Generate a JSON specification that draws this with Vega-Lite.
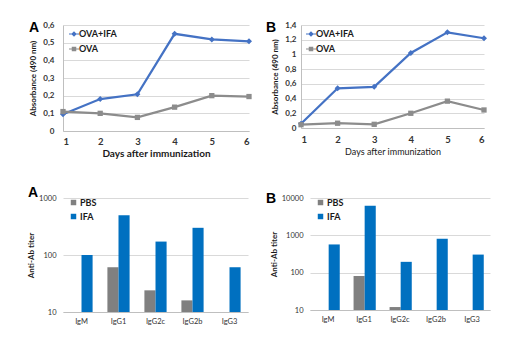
{
  "$schema": "https://vega.github.io/schema/vega-lite/v6.json",
  "background": "white",
  "padding": {"left": 27, "top": 21, "right": 5, "bottom": 5},
  "config": {
    "font": "Lato",
    "view": {"stroke": null},
    "axis": {"labelColor": "#333333", "titleColor": "#1a1a1a", "gridColor": "#d9d9d9", "domainColor": "#bfbfbf", "ticks": false, "labelFont": "Lato", "titleFont": "Lato"},
    "legend": {"labelFont": "Lato", "labelColor": "#1a1a1a", "padding": 0},
    "title": {"font": "Liberation Sans", "fontSize": 14, "fontWeight": "bold", "anchor": "start", "frame": "group", "offset": 0, "color": "#000000"}
  },
  "resolve": {"scale": {"color": "independent"}, "legend": {"color": "independent"}},
  "spacing": 27,
  "vconcat": [
    {
      "spacing": 52,
      "bounds": "flush",
      "resolve": {"scale": {"color": "independent"}, "legend": {"color": "independent"}},
      "hconcat": [
        {
          "width": 186,
          "height": 106,
          "title": {"text": "A", "dx": -34, "dy": 18},
          "data": {"values": [
            {"day": 1, "series": "OVA+IFA", "abs": 0.095},
            {"day": 2, "series": "OVA+IFA", "abs": 0.181},
            {"day": 3, "series": "OVA+IFA", "abs": 0.208},
            {"day": 4, "series": "OVA+IFA", "abs": 0.55},
            {"day": 5, "series": "OVA+IFA", "abs": 0.518},
            {"day": 6, "series": "OVA+IFA", "abs": 0.508},
            {"day": 1, "series": "OVA", "abs": 0.11},
            {"day": 2, "series": "OVA", "abs": 0.1},
            {"day": 3, "series": "OVA", "abs": 0.077},
            {"day": 4, "series": "OVA", "abs": 0.135},
            {"day": 5, "series": "OVA", "abs": 0.2},
            {"day": 6, "series": "OVA", "abs": 0.195}
          ]},
          "encoding": {
            "x": {"field": "day", "type": "quantitative", "scale": {"domain": [1, 6], "nice": false, "zero": false},
              "axis": {"values": [1, 2, 3, 4, 5, 6], "format": "d", "title": "Days after immunization", "grid": false, "labelFontSize": 9.5, "labelFontWeight": "bold", "labelPadding": 5, "titleFontSize": 10, "titleFontWeight": "bold", "titlePadding": 3}},
            "y": {"field": "abs", "type": "quantitative", "scale": {"domain": [0, 0.6], "nice": false},
              "axis": {"values": [0, 0.1, 0.2, 0.3, 0.4, 0.5, 0.6], "labelExpr": "replace(format(datum.value, '~g'), '.', ',')", "title": "Absorbance  (490 nm)", "grid": true, "labelFontSize": 8, "labelFontWeight": "bold", "labelPadding": 9, "titleFontSize": 8, "titleFontWeight": "bold", "titlePadding": 5}},
            "color": {"field": "series", "type": "nominal", "scale": {"domain": ["OVA+IFA", "OVA"], "range": ["#4472c4", "#8c8c8c"]},
              "legend": {"title": null, "orient": "none", "legendX": 6, "legendY": 4, "labelFontSize": 9, "labelFontWeight": "bold", "labelOffset": 0, "symbolSize": 100, "rowPadding": 5,
                "encode": {"symbols": {"update": {
                  "shape": {"signal": "datum.value === 'OVA' ? 'M-1,-0.12H1V0.12H-1ZM-0.45,-0.45H0.45V0.45H-0.45Z' : 'M-1,-0.12H1V0.12H-1ZM0,-0.55L0.55,0L0,0.55L-0.55,0Z'"},
                  "fill": {"signal": "datum.value === 'OVA' ? '#8c8c8c' : '#4472c4'"},
                  "stroke": {"value": null},
                  "strokeWidth": {"value": 0},
                  "opacity": {"value": 1}
                }}}}}
          },
          "layer": [
            {"mark": {"type": "line", "strokeWidth": 2.25}, "encoding": {}},
            {"transform": [{"filter": "datum.series === 'OVA+IFA'"}], "mark": {"type": "point", "shape": "diamond", "filled": true, "size": 36, "opacity": 1}},
            {"transform": [{"filter": "datum.series === 'OVA'"}], "mark": {"type": "point", "shape": "square", "filled": true, "size": 28, "opacity": 1}}
          ]
        },
        {
          "width": 183,
          "height": 103,
          "title": {"text": "B", "dx": -35, "dy": 18},
          "data": {"values": [
            {"day": 1, "series": "OVA+IFA", "abs": 0.058},
            {"day": 2, "series": "OVA+IFA", "abs": 0.54},
            {"day": 3, "series": "OVA+IFA", "abs": 0.56},
            {"day": 4, "series": "OVA+IFA", "abs": 1.02},
            {"day": 5, "series": "OVA+IFA", "abs": 1.3},
            {"day": 6, "series": "OVA+IFA", "abs": 1.22},
            {"day": 1, "series": "OVA", "abs": 0.045},
            {"day": 2, "series": "OVA", "abs": 0.065},
            {"day": 3, "series": "OVA", "abs": 0.05},
            {"day": 4, "series": "OVA", "abs": 0.2},
            {"day": 5, "series": "OVA", "abs": 0.365},
            {"day": 6, "series": "OVA", "abs": 0.245}
          ]},
          "encoding": {
            "x": {"field": "day", "type": "quantitative", "scale": {"domain": [1, 6], "nice": false, "zero": false},
              "axis": {"values": [1, 2, 3, 4, 5, 6], "format": "d", "title": "Days after immunization", "grid": false, "labelFontSize": 9.5, "labelFontWeight": "bold", "labelPadding": 6, "titleFontSize": 9, "titleFontWeight": "normal", "titlePadding": 4}},
            "y": {"field": "abs", "type": "quantitative", "scale": {"domain": [0, 1.4], "nice": false},
              "axis": {"values": [0, 0.2, 0.4, 0.6, 0.8, 1, 1.2, 1.4], "labelExpr": "replace(format(datum.value, '~g'), '.', ',')", "title": "Absorbance  (490 nm)", "grid": true, "labelFontSize": 8, "labelFontWeight": "bold", "labelPadding": 5, "titleFontSize": 8, "titleFontWeight": "bold", "titlePadding": 5}},
            "color": {"field": "series", "type": "nominal", "scale": {"domain": ["OVA+IFA", "OVA"], "range": ["#4472c4", "#8c8c8c"]},
              "legend": {"title": null, "orient": "none", "legendX": 5, "legendY": 4, "labelFontSize": 9, "labelFontWeight": "bold", "labelOffset": 0, "symbolSize": 100, "rowPadding": 5,
                "encode": {"symbols": {"update": {
                  "shape": {"signal": "datum.value === 'OVA' ? 'M-1,-0.12H1V0.12H-1ZM-0.45,-0.45H0.45V0.45H-0.45Z' : 'M-1,-0.12H1V0.12H-1ZM0,-0.55L0.55,0L0,0.55L-0.55,0Z'"},
                  "fill": {"signal": "datum.value === 'OVA' ? '#8c8c8c' : '#4472c4'"},
                  "stroke": {"value": null},
                  "strokeWidth": {"value": 0},
                  "opacity": {"value": 1}
                }}}}}
          },
          "layer": [
            {"mark": {"type": "line", "strokeWidth": 2.25}, "encoding": {}},
            {"transform": [{"filter": "datum.series === 'OVA+IFA'"}], "mark": {"type": "point", "shape": "diamond", "filled": true, "size": 36, "opacity": 1}},
            {"transform": [{"filter": "datum.series === 'OVA'"}], "mark": {"type": "point", "shape": "square", "filled": true, "size": 28, "opacity": 1}}
          ]
        }
      ]
    },
    {
      "spacing": 62,
      "bounds": "flush",
      "resolve": {"scale": {"color": "independent"}, "legend": {"color": "independent"}},
      "hconcat": [
        {
          "width": 185,
          "height": 114,
          "title": {"text": "A", "dx": -35, "dy": 10},
          "data": {"values": [
            {"isotype": "IgM", "group": "IFA", "titer": 100},
            {"isotype": "IgG1", "group": "PBS", "titer": 61},
            {"isotype": "IgG1", "group": "IFA", "titer": 500},
            {"isotype": "IgG2c", "group": "PBS", "titer": 24},
            {"isotype": "IgG2c", "group": "IFA", "titer": 172},
            {"isotype": "IgG2b", "group": "PBS", "titer": 16},
            {"isotype": "IgG2b", "group": "IFA", "titer": 300},
            {"isotype": "IgG3", "group": "IFA", "titer": 61}
          ]},
          "mark": {"type": "bar"},
          "encoding": {
            "x": {"field": "isotype", "type": "nominal", "sort": ["IgM", "IgG1", "IgG2c", "IgG2b", "IgG3"], "scale": {"paddingInner": 0.4, "paddingOuter": 0.2},
              "axis": {"title": null, "labelAngle": 0, "labelFontSize": 7.5, "labelPadding": 5, "domain": true, "grid": false}},
            "xOffset": {"field": "group", "type": "nominal", "scale": {"domain": ["PBS", "IFA"]}},
            "y": {"field": "titer", "type": "quantitative", "scale": {"type": "log", "domain": [10, 1000], "nice": false},
              "axis": {"values": [10, 100, 1000], "format": "d", "title": "Anti-Ab titer", "grid": true, "domain": false, "labelFontSize": 7.5, "labelPadding": 7, "titleFontSize": 8, "titleFontWeight": "bold", "titlePadding": 3}},
            "y2": {"datum": 10},
            "color": {"field": "group", "type": "nominal", "scale": {"domain": ["PBS", "IFA"], "range": ["#808080", "#0070c0"]},
              "legend": {"title": null, "orient": "none", "legendX": 6, "legendY": 0, "symbolType": "square", "symbolSize": 30, "labelFontSize": 9, "labelFontWeight": "bold", "labelOffset": 2, "rowPadding": 4}}
          }
        },
        {
          "width": 180,
          "height": 112,
          "title": {"text": "B", "dx": -44, "dy": 16},
          "data": {"values": [
            {"isotype": "IgM", "group": "IFA", "titer": 570},
            {"isotype": "IgG1", "group": "PBS", "titer": 82},
            {"isotype": "IgG1", "group": "IFA", "titer": 6200},
            {"isotype": "IgG2c", "group": "PBS", "titer": 12},
            {"isotype": "IgG2c", "group": "IFA", "titer": 195},
            {"isotype": "IgG2b", "group": "IFA", "titer": 810},
            {"isotype": "IgG3", "group": "IFA", "titer": 305}
          ]},
          "mark": {"type": "bar"},
          "encoding": {
            "x": {"field": "isotype", "type": "nominal", "sort": ["IgM", "IgG1", "IgG2c", "IgG2b", "IgG3"], "scale": {"paddingInner": 0.42, "paddingOuter": 0.21},
              "axis": {"title": null, "labelAngle": 0, "labelFontSize": 7.5, "labelPadding": 5, "domain": true, "grid": false}},
            "xOffset": {"field": "group", "type": "nominal", "scale": {"domain": ["PBS", "IFA"]}},
            "y": {"field": "titer", "type": "quantitative", "scale": {"type": "log", "domain": [10, 10000], "nice": false},
              "axis": {"values": [10, 100, 1000, 10000], "format": "d", "title": "Anti-Ab titer", "grid": true, "domain": false, "labelFontSize": 7.5, "labelPadding": 7, "titleFontSize": 8, "titleFontWeight": "bold", "titlePadding": 3}},
            "y2": {"datum": 10},
            "color": {"field": "group", "type": "nominal", "scale": {"domain": ["PBS", "IFA"], "range": ["#808080", "#0070c0"]},
              "legend": {"title": null, "orient": "none", "legendX": 6, "legendY": 0, "symbolType": "square", "symbolSize": 30, "labelFontSize": 9, "labelFontWeight": "bold", "labelOffset": 2, "rowPadding": 4}}
          }
        }
      ]
    }
  ]
}
